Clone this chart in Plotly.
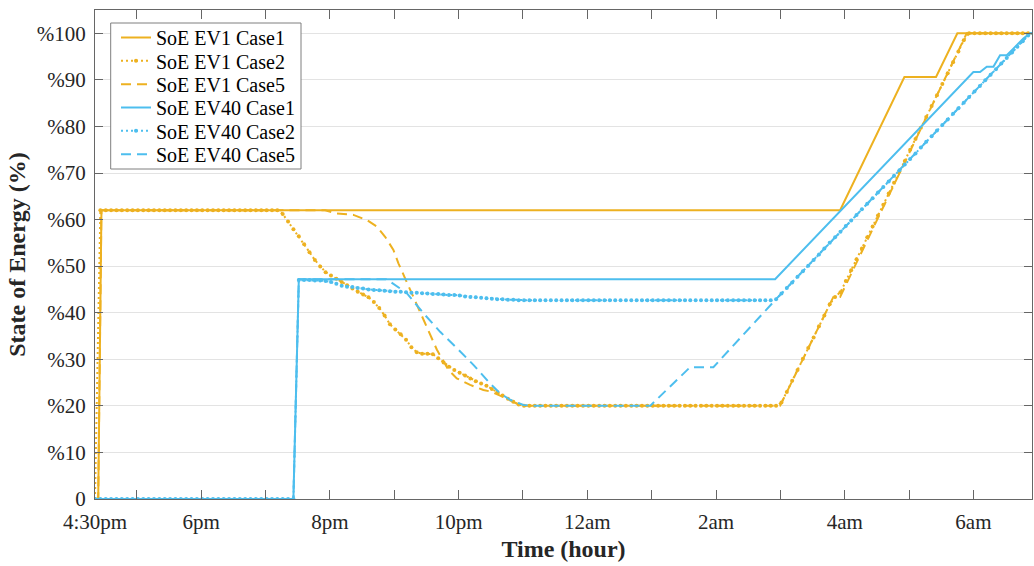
import numpy as np
import plotly.graph_objects as go

# ---------------- data ----------------
ORANGE = "#EDB120"
BLUE = "#4DBEEE"

# hours (24 = midnight); axis starts at the 4:30pm label
x_tick_vals = [16.35, 17, 18, 19, 20, 21, 22, 23, 24, 25, 26, 27, 28, 29, 30]
x_tick_text = ["4:30pm", "", "6pm", "", "8pm", "", "10pm", "", "12am", "", "2am", "", "4am", "", "6am"]
y_tick_vals = [0, 10, 20, 30, 40, 50, 60, 70, 80, 90, 100]
y_tick_text = ["0", "%10", "%20", "%30", "%40", "%50", "%60", "%70", "%80", "%90", "%100"]

series_names = ["SoE EV1 Case1", "SoE EV1 Case2", "SoE EV1 Case5",
                "SoE EV40 Case1", "SoE EV40 Case2", "SoE EV40 Case5"]

# EV1 Case1 (breakpoints)
ev1_c1_t = [16.35, 16.40, 16.45, 27.928, 28.927, 29.419, 29.750, 30.95]
ev1_c1_v = [0, 0, 62, 62, 90.6, 90.6, 100, 100]

# EV1 Case5 (breakpoints)
ev1_c5_t = [16.35, 16.40, 16.45, 19.926, 20.107, 20.366, 20.574, 20.729, 20.858, 20.987, 21.065,
            21.247, 21.453, 21.661, 21.842, 21.972, 22.179, 22.385, 22.489, 22.645, 22.904,
            23.007, 26.995, 27.824, 27.928, 29.896, 30.95]
ev1_c5_v = [0, 0, 62, 62, 61.3, 61.0, 59.9, 58.5, 56.3, 53.5, 50.6,
            44.9, 38.5, 32.1, 27.7, 25.9, 24.5, 23.4, 23.1, 22.2, 20.5,
            20.0, 20.0, 43.4, 43.4, 100, 100]

# EV40 Case1 (breakpoints)
ev40_c1_t = [16.35, 19.433, 19.517, 26.918, 29.999, 30.103, 30.207, 30.310, 30.414, 30.518,
             30.620, 30.776, 30.880, 30.95]
ev40_c1_v = [0, 0, 47.2, 47.2, 91.7, 91.7, 92.8, 92.8, 95.3, 95.3,
             96.7, 98.9, 100, 100]

# EV40 Case5 (breakpoints)
ev40_c5_t = [16.35, 19.433, 19.517, 20.873, 20.935, 21.195, 21.453, 21.713, 21.972, 22.230,
             22.489, 22.645, 22.800, 23.007, 23.189, 24.976, 25.597, 25.959, 26.918, 30.880, 30.95]
ev40_c5_v = [0, 0, 47.2, 47.2, 46.7, 44.2, 39.9, 35.9, 32.4, 28.8,
             24.8, 22.7, 21.3, 20.2, 20.0, 20.0, 28.3, 28.3, 42.7, 100, 100]

# Case2 series sampled every 5 minutes starting at the left edge
case2_t = 16.35 + np.arange(176) / 12.0

ev1_c2_v = [
    0, 62, 62, 62, 62, 62, 62, 62, 62, 62,
    62, 62, 62, 62, 62, 62, 62, 62, 62, 62,
    62, 62, 62, 62, 62, 62, 62, 62, 62, 62,
    62, 62, 62, 62, 62, 61.2, 59.6, 57.9, 56.4, 54.7,
    53.0, 51.3, 49.9, 48.7, 48.0, 47.3, 46.6, 45.9, 45.2, 44.5,
    43.9, 43.3, 42.3, 41.0, 39.4, 37.5, 36.4, 35.4, 34.2, 32.6,
    31.5, 31.2, 31.2, 31.1, 30.2, 29.3, 28.4, 27.7, 27.1, 26.5,
    25.9, 25.3, 24.8, 24.3, 23.6, 22.9, 22.2, 21.5, 20.9, 20.3,
    20, 20, 20, 20, 20, 20, 20, 20, 20, 20,
    20, 20, 20, 20, 20, 20, 20, 20, 20, 20,
    20, 20, 20, 20, 20, 20, 20, 20, 20, 20,
    20, 20, 20, 20, 20, 20, 20, 20, 20, 20,
    20, 20, 20, 20, 20, 20, 20, 20, 20.7, 23.0,
    25.4, 27.7, 30.1, 32.4, 34.7, 37.1, 39.4, 41.8, 43.4, 44.4,
    46.8, 49.1, 51.5, 53.8, 56.2, 58.5, 60.9, 63.2, 65.6, 67.9,
    70.3, 72.6, 75.0, 77.3, 79.7, 82.0, 84.4, 86.7, 89.1, 91.4,
    93.8, 96.1, 98.5, 100, 100, 100, 100, 100, 100, 100,
    100, 100, 100, 100, 100, 100,
]

ev40_c2_v = [
    0, 0, 0, 0, 0, 0, 0, 0, 0, 0,
    0, 0, 0, 0, 0, 0, 0, 0, 0, 0,
    0, 0, 0, 0, 0, 0, 0, 0, 0, 0,
    0, 0, 0, 0, 0, 0, 0, 0, 47.0, 47.0,
    47.0, 46.9, 46.9, 46.8, 46.6, 46.2, 45.8, 45.6, 45.5, 45.3,
    45.2, 45.0, 44.9, 44.8, 44.7, 44.6, 44.5, 44.5, 44.4, 44.3,
    44.3, 44.2, 44.1, 44.0, 44.0, 43.9, 43.8, 43.8, 43.7, 43.5,
    43.4, 43.3, 43.2, 43.1, 43.0, 42.9, 42.9, 42.8, 42.8, 42.7,
    42.7, 42.7, 42.7, 42.7, 42.7, 42.7, 42.7, 42.7, 42.7, 42.7,
    42.7, 42.7, 42.7, 42.7, 42.7, 42.7, 42.7, 42.7, 42.7, 42.7,
    42.7, 42.7, 42.7, 42.7, 42.7, 42.7, 42.7, 42.7, 42.7, 42.7,
    42.7, 42.7, 42.7, 42.7, 42.7, 42.7, 42.7, 42.7, 42.7, 42.7,
    42.7, 42.7, 42.7, 42.7, 42.7, 42.7, 42.7, 42.9, 44.1, 45.3,
    46.5, 47.7, 48.9, 50.1, 51.3, 52.5, 53.8, 55.0, 56.2, 57.4,
    58.6, 59.8, 61.0, 62.2, 63.4, 64.6, 65.8, 67.0, 68.2, 69.4,
    70.6, 71.8, 73.0, 74.2, 75.5, 76.7, 77.9, 79.1, 80.3, 81.5,
    82.7, 83.9, 85.1, 86.3, 87.5, 88.7, 89.9, 91.1, 92.3, 93.5,
    94.7, 95.9, 97.1, 98.3, 99.5, 100,
]

# ---------------- figure ----------------
FONT = "Liberation Serif"
DOT = "2px,3px"
DASH = "10px,6px"

# plot-area geometry in pixels (for legend placement)
PLOT_L, PLOT_R, PLOT_T, PLOT_B = 95, 1032, 10, 499
def px_x(px):
    return (px - PLOT_L) / (PLOT_R - PLOT_L)
def px_y(py):
    return (PLOT_B - py) / (PLOT_B - PLOT_T)

legend_ids = ["legend", "legend2", "legend3", "legend4", "legend5", "legend6"]
legend_row_y = [37.5, 60.8, 84.2, 107.5, 130.8, 154.2]

fig = go.Figure()
fig.add_trace(go.Scatter(x=ev1_c1_t, y=ev1_c1_v, mode="lines", name=series_names[0],
                         line=dict(color=ORANGE, width=2), legend=legend_ids[0]))
fig.add_trace(go.Scatter(x=case2_t, y=ev1_c2_v, mode="lines+markers", name=series_names[1],
                         line=dict(color=ORANGE, width=2, dash=DOT),
                         marker=dict(color=ORANGE, size=4), legend=legend_ids[1]))
fig.add_trace(go.Scatter(x=ev1_c5_t, y=ev1_c5_v, mode="lines", name=series_names[2],
                         line=dict(color=ORANGE, width=2, dash=DASH), legend=legend_ids[2]))
fig.add_trace(go.Scatter(x=ev40_c1_t, y=ev40_c1_v, mode="lines", name=series_names[3],
                         line=dict(color=BLUE, width=2), legend=legend_ids[3]))
fig.add_trace(go.Scatter(x=case2_t, y=ev40_c2_v, mode="lines+markers", name=series_names[4],
                         line=dict(color=BLUE, width=2, dash=DOT),
                         marker=dict(color=BLUE, size=4), legend=legend_ids[4]))
fig.add_trace(go.Scatter(x=ev40_c5_t, y=ev40_c5_v, mode="lines", name=series_names[5],
                         line=dict(color=BLUE, width=2, dash=DASH), legend=legend_ids[5]))

axis_common = dict(
    showline=True, linecolor="#666666", linewidth=1, mirror="ticks",
    ticks="inside", tickcolor="#666666", tickwidth=1,
    tickfont=dict(family=FONT, size=21, color="#262626"),
    zeroline=False,
)

fig.update_xaxes(
    **axis_common,
    range=[16.35, 30.91],
    tickmode="array", tickvals=x_tick_vals, ticktext=x_tick_text,
    ticklen=9, showgrid=False, ticklabelstandoff=4,
    title=dict(text="<b>Time (hour)</b>", font=dict(family=FONT, size=24, color="#262626"),
               standoff=6),
)
fig.update_yaxes(
    **axis_common,
    range=[0, 105],
    tickmode="array", tickvals=y_tick_vals, ticktext=y_tick_text,
    ticklen=8, showgrid=True, gridcolor="#e3e3e3", gridwidth=1, ticklabelstandoff=4,
    title=dict(text="<b>State of Energy (%)</b>", font=dict(family=FONT, size=24, color="#262626"),
               standoff=4),
)

legend_layout = {}
for lid, ry in zip(legend_ids, legend_row_y):
    legend_layout[lid] = dict(
        x=px_x(116), y=px_y(ry), xanchor="left", yanchor="middle",
        bgcolor="rgba(0,0,0,0)", borderwidth=0,
        font=dict(family=FONT, size=20, color="#000000"),
        itemwidth=30,
    )

fig.update_layout(
    width=1034, height=566,
    margin=dict(l=PLOT_L, r=1034 - PLOT_R, t=PLOT_T, b=566 - PLOT_B, autoexpand=False),
    paper_bgcolor="white", plot_bgcolor="white",
    font=dict(family=FONT, color="#262626"),
    showlegend=True,
    shapes=[dict(type="rect", xref="paper", yref="paper",
                 x0=px_x(110.7), x1=px_x(301), y0=px_y(169), y1=px_y(23),
                 line=dict(color="#7f7f7f", width=1), fillcolor="white", layer="above")],
    **legend_layout,
)

fig.write_html("out.html")
